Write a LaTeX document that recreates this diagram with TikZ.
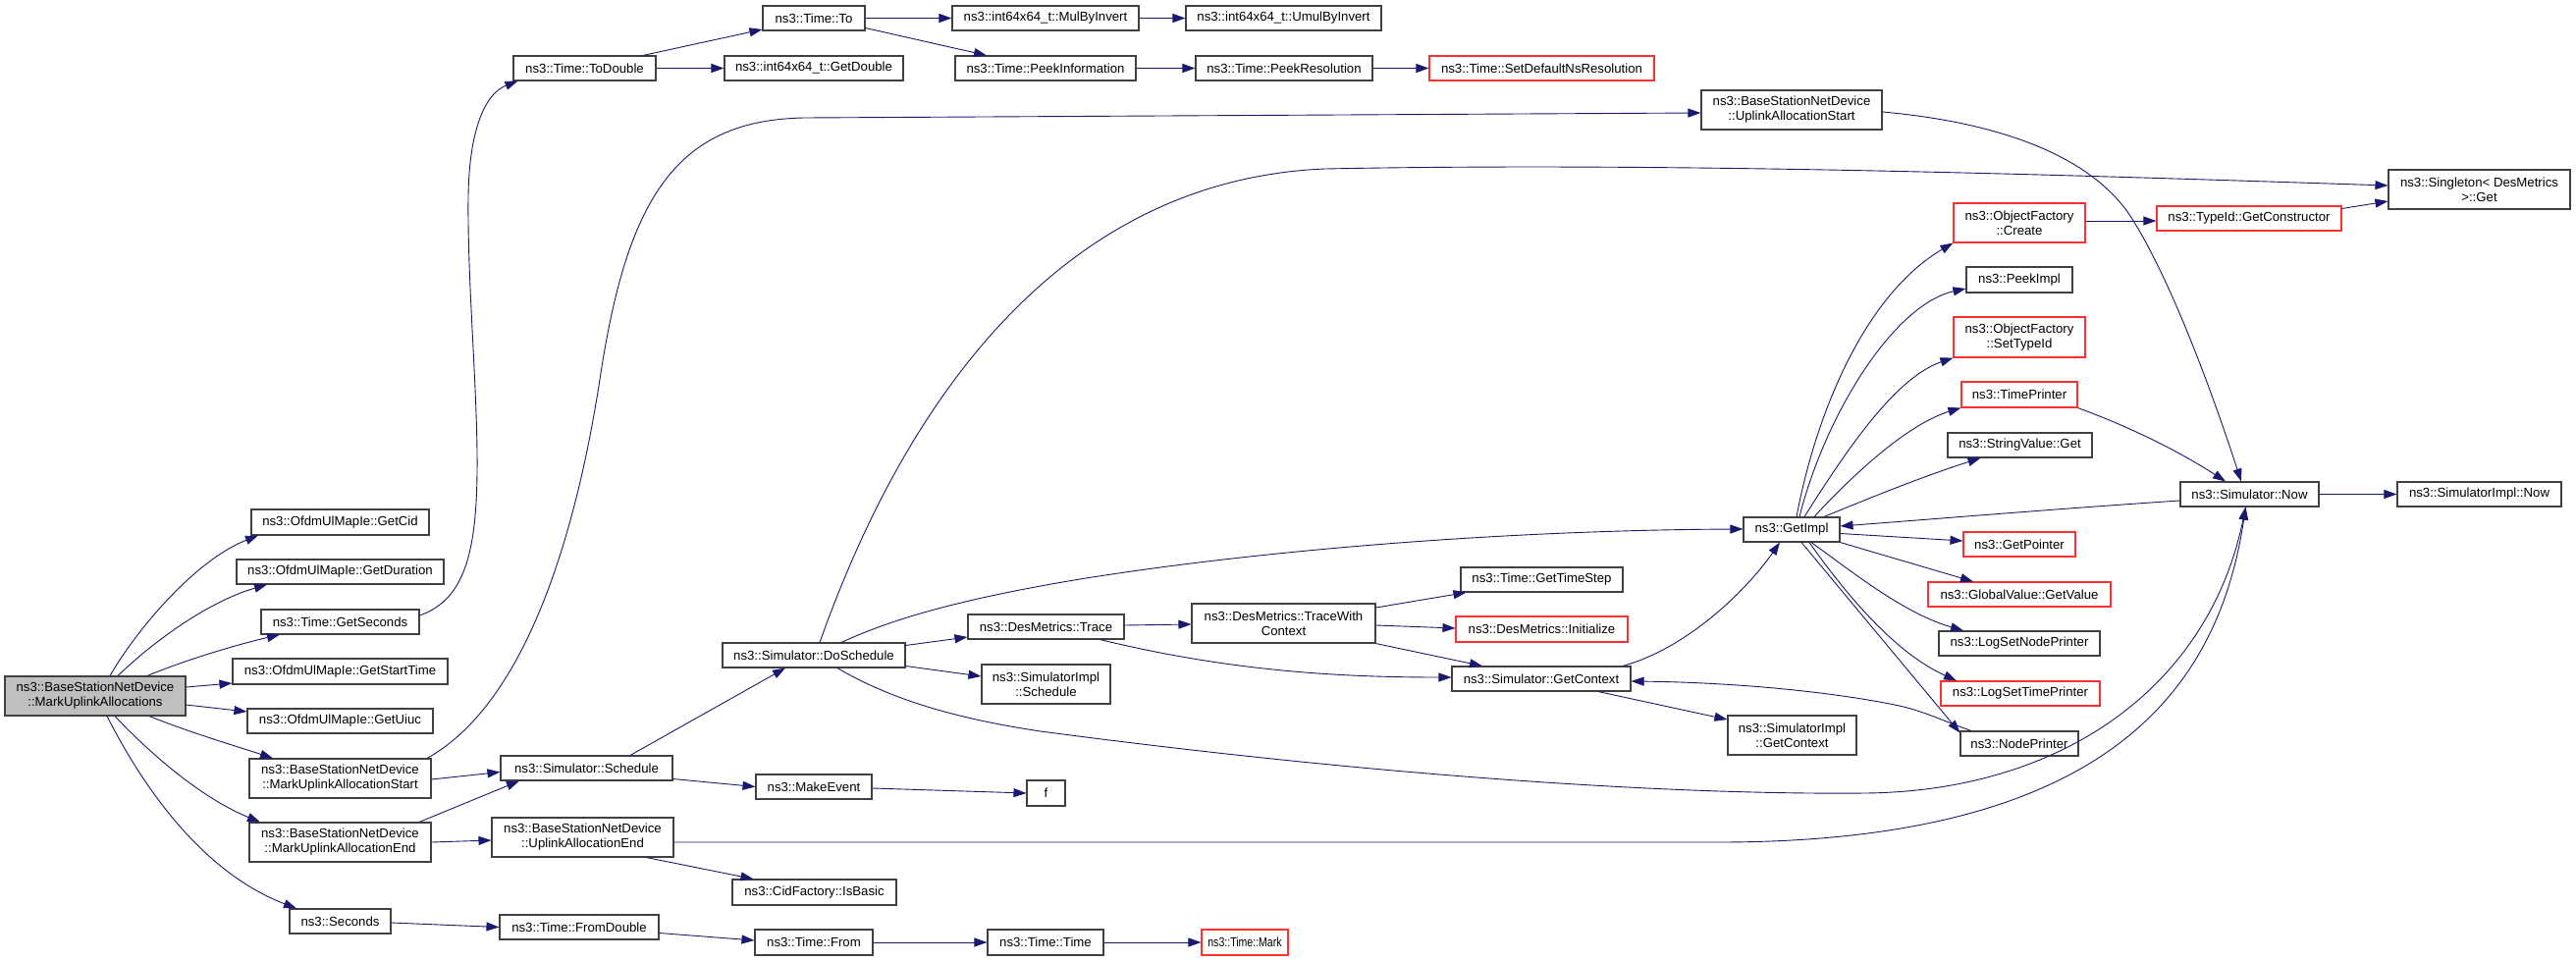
\documentclass[tikz,border=0pt]{standalone}
\usepackage{fontspec}
\setmainfont{Liberation Sans}
\usetikzlibrary{arrows.meta}
\definecolor{edgeblue}{HTML}{191970}
\definecolor{boxgray}{HTML}{404040}
\definecolor{boxred}{HTML}{FF3030}
\definecolor{mainfill}{HTML}{BFBFBF}
\begin{document}
\begin{tikzpicture}[x=1pt,y=-1pt,
  nbox/.style={draw=boxgray,line width=1.1pt,fill=white,inner sep=0pt,align=center,font=\fontsize{13.2}{15}\selectfont},
  rbox/.style={nbox,draw=boxred},
  mbox/.style={nbox,fill=mainfill},
  conn/.style={draw=edgeblue,line width=0.9pt,-{Triangle[length=13pt,width=9pt]}}]
\useasboundingbox (0,0) rectangle (2624,979);
\fill[white] (0,0) rectangle (2624,979);
% column 0
\node[mbox,minimum width=184pt,minimum height=40pt] (main) at (97,709) {ns3::BaseStationNetDevice\\::MarkUplinkAllocations};
% column 1
\node[nbox,minimum width=181pt,minimum height=26pt] (GetCid) at (346.5,532) {ns3::OfdmUlMapIe::GetCid};
\node[nbox,minimum width=211pt,minimum height=25pt] (GetDuration) at (346.5,582.5) {ns3::OfdmUlMapIe::GetDuration};
\node[nbox,minimum width=161pt,minimum height=25pt] (GetSeconds) at (346.5,633.5) {ns3::Time::GetSeconds};
\node[nbox,minimum width=219pt,minimum height=26pt] (GetStartTime) at (346.5,684) {ns3::OfdmUlMapIe::GetStartTime};
\node[nbox,minimum width=189pt,minimum height=25pt] (GetUiuc) at (346.5,734.5) {ns3::OfdmUlMapIe::GetUiuc};
\node[nbox,minimum width=185pt,minimum height=40pt] (MUAStart) at (346.5,793) {ns3::BaseStationNetDevice\\::MarkUplinkAllocationStart};
\node[nbox,minimum width=185pt,minimum height=40pt] (MUAEnd) at (346.5,858) {ns3::BaseStationNetDevice\\::MarkUplinkAllocationEnd};
\node[nbox,minimum width=103pt,minimum height=25pt] (Seconds) at (346.5,938.5) {ns3::Seconds};
% column 2
\node[nbox,minimum width=145pt,minimum height=25pt] (ToDouble) at (595.5,69.5) {ns3::Time::ToDouble};
\node[nbox,minimum width=175pt,minimum height=25pt] (SimSchedule) at (597.5,782.5) {ns3::Simulator::Schedule};
\node[nbox,minimum width=185pt,minimum height=40pt] (UAEnd) at (593.5,853) {ns3::BaseStationNetDevice\\::UplinkAllocationEnd};
\node[nbox,minimum width=162pt,minimum height=25pt] (FromDouble) at (590,944.5) {ns3::Time::FromDouble};
% column 3
\node[nbox,minimum width=104pt,minimum height=25pt] (TimeTo) at (829,18.5) {ns3::Time::To};
\node[nbox,minimum width=182pt,minimum height=25pt] (GetDouble) at (829,69.5) {ns3::int64x64\_t::GetDouble};
\node[nbox,minimum width=186pt,minimum height=25pt] (DoSchedule) at (829,667.5) {ns3::Simulator::DoSchedule};
\node[nbox,minimum width=118pt,minimum height=25pt] (MakeEvent) at (829,801.5) {ns3::MakeEvent};
\node[nbox,minimum width=167pt,minimum height=26pt] (CidIsBasic) at (829.5,909) {ns3::CidFactory::IsBasic};
\node[nbox,minimum width=120pt,minimum height=26pt] (TimeFrom) at (829,960) {ns3::Time::From};
% column 4
\node[nbox,minimum width=190pt,minimum height=25pt] (MulByInvert) at (1065,18.5) {ns3::int64x64\_t::MulByInvert};
\node[nbox,minimum width=184pt,minimum height=25pt] (PeekInformation) at (1065,69.5) {ns3::Time::PeekInformation};
\node[nbox,minimum width=159pt,minimum height=25pt] (Trace) at (1065.5,638.5) {ns3::DesMetrics::Trace};
\node[nbox,minimum width=131pt,minimum height=40pt] (SimImplSchedule) at (1065.5,697) {ns3::SimulatorImpl\\::Schedule};
\node[nbox,minimum width=39pt,minimum height=26pt] (f) at (1065.5,808) {f};
\node[nbox,minimum width=118pt,minimum height=26pt] (TimeTime) at (1065,960) {ns3::Time::Time};
% column 5
\node[nbox,minimum width=199pt,minimum height=25pt] (UmulByInvert) at (1307.5,18.5) {ns3::int64x64\_t::UmulByInvert};
\node[nbox,minimum width=180pt,minimum height=25pt] (PeekResolution) at (1308,69.5) {ns3::Time::PeekResolution};
\node[nbox,minimum width=187pt,minimum height=40pt] (TWC) at (1307.5,635) {ns3::DesMetrics::TraceWith\\Context};
\node[rbox,minimum width=88pt,minimum height=26pt] (Mark) at (1268,960) {\scalebox{0.8}[1]{ns3::Time::Mark}};
% column 6
\node[rbox,minimum width=229pt,minimum height=25pt] (SetDefault) at (1570.5,69.5) {ns3::Time::SetDefaultNsResolution};
\node[nbox,minimum width=165pt,minimum height=25pt] (GetTimeStep) at (1570.5,590.5) {ns3::Time::GetTimeStep};
\node[rbox,minimum width=175pt,minimum height=26pt] (Initialize) at (1570.5,641) {ns3::DesMetrics::Initialize};
\node[nbox,minimum width=182pt,minimum height=25pt] (GetContext) at (1570,691.5) {ns3::Simulator::GetContext};
% column 7
\node[nbox,minimum width=184pt,minimum height=40pt] (UAStart) at (1825,112) {ns3::BaseStationNetDevice\\::UplinkAllocationStart};
\node[nbox,minimum width=98pt,minimum height=25pt] (GetImpl) at (1825,539.5) {ns3::GetImpl};
\node[nbox,minimum width=131pt,minimum height=40pt] (SimImplGetContext) at (1825.5,749) {ns3::SimulatorImpl\\::GetContext};
% column 8
\node[rbox,minimum width=134pt,minimum height=40pt] (Create) at (2057,227) {ns3::ObjectFactory\\::Create};
\node[nbox,minimum width=108pt,minimum height=26pt] (PeekImpl) at (2057,285) {ns3::PeekImpl};
\node[rbox,minimum width=134pt,minimum height=41pt] (SetTypeId) at (2057,343.5) {ns3::ObjectFactory\\::SetTypeId};
\node[rbox,minimum width=118pt,minimum height=26pt] (TimePrinter) at (2057,402) {ns3::TimePrinter};
\node[nbox,minimum width=147pt,minimum height=25pt] (StringValueGet) at (2057.5,453.5) {ns3::StringValue::Get};
\node[rbox,minimum width=114pt,minimum height=25pt] (GetPointer) at (2057,554.5) {ns3::GetPointer};
\node[rbox,minimum width=186pt,minimum height=25pt] (GlobalValue) at (2057,605.5) {ns3::GlobalValue::GetValue};
\node[nbox,minimum width=164pt,minimum height=25pt] (LogSetNodePrinter) at (2057,655.5) {ns3::LogSetNodePrinter};
\node[rbox,minimum width=162pt,minimum height=25pt] (LogSetTimePrinter) at (2058,706.5) {ns3::LogSetTimePrinter};
\node[nbox,minimum width=120pt,minimum height=25pt] (NodePrinter) at (2057,757.5) {ns3::NodePrinter};
% column 9
\node[rbox,minimum width=188pt,minimum height=25pt] (GetConstructor) at (2291,222.5) {ns3::TypeId::GetConstructor};
\node[nbox,minimum width=141pt,minimum height=25pt] (SimNow) at (2291.5,503.5) {ns3::Simulator::Now};
% column 10
\node[nbox,minimum width=185pt,minimum height=40pt] (Singleton) at (2525.5,193) {ns3::Singleton< DesMetrics\\>::Get};
\node[nbox,minimum width=167pt,minimum height=25pt] (SimImplNow) at (2525.5,503.5) {ns3::SimulatorImpl::Now};

% edges from main
\draw[conn] ([xshift=15pt]main.north) .. controls (140,640) and (200,570) .. ([xshift=-83.5pt]GetCid.south);
\draw[conn] ([xshift=23pt]main.north) .. controls (160,650) and (215,612) .. ([xshift=-74.5pt]GetDuration.south);
\draw[conn] ([xshift=53pt]main.north) .. controls (190,672) and (240,657) .. ([xshift=-61.5pt]GetSeconds.south);
\draw[conn] ([yshift=9pt]main.east) -- ([yshift=-12pt]GetStartTime.west);
\draw[conn] ([yshift=-9pt]main.east) -- ([yshift=9.5pt]GetUiuc.west);
\draw[conn] ([xshift=55pt]main.south) .. controls (190,745) and (240,760) .. ([xshift=-68.5pt]MUAStart.north);
\draw[conn] ([xshift=20pt]main.south) .. controls (160,775) and (210,815) .. ([xshift=-81.5pt]MUAEnd.north);
\draw[conn] ([xshift=12pt]main.south) .. controls (150,810) and (210,890) .. ([xshift=-44.5pt]Seconds.north);

% GetSeconds -> ToDouble
\draw[conn] ([yshift=6.5pt]GetSeconds.east) .. controls (475,610) and (487,560) .. (486,460)
  .. controls (485,380) and (476,280) .. (477,200) .. controls (478,130) and (495,95) .. ([xshift=-68pt]ToDouble.south);
\draw[conn] ([xshift=59.5pt]ToDouble.north) -- ([yshift=-11.5pt]TimeTo.west);
\draw[conn] (ToDouble.east) -- (GetDouble.west);
\draw[conn] (TimeTo.east) -- (MulByInvert.west);
\draw[conn] ([yshift=-10pt]TimeTo.east) -- ([xshift=-60pt]PeekInformation.north);
\draw[conn] (MulByInvert.east) -- (UmulByInvert.west);
\draw[conn] (PeekInformation.east) -- (PeekResolution.west);
\draw[conn] (PeekResolution.east) -- (SetDefault.west);

% MarkUplinkAllocationStart / End
\draw[conn] ([xshift=88.5pt]MUAStart.north) .. controls (530,720) and (585,560) .. (612,380)
  .. controls (640,200) and (690,122) .. (820,120) -- ([yshift=-3pt]UAStart.west);
\draw[conn] ([yshift=-1pt]MUAStart.east) -- ([yshift=-4pt]SimSchedule.west);
\draw[conn] ([xshift=80.5pt]MUAEnd.north) -- ([xshift=-68.5pt]SimSchedule.south);
\draw[conn] (MUAEnd.east) -- ([yshift=-3pt]UAEnd.west);

% Simulator::Schedule
\draw[conn] ([xshift=44.5pt]SimSchedule.north) -- ([xshift=-29pt]DoSchedule.south);
\draw[conn] ([yshift=-11pt]SimSchedule.east) -- (MakeEvent.west);
\draw[conn] ([yshift=-1.5pt]MakeEvent.east) -- (f.west);

% DoSchedule
\draw[conn] ([yshift=10pt]DoSchedule.east) -- ([yshift=-10.5pt]Trace.west);
\draw[conn] ([yshift=-11pt]DoSchedule.east) -- ([yshift=8pt]SimImplSchedule.west);
\draw[conn] ([xshift=28pt]DoSchedule.north) .. controls (910,630) and (980,610) .. (1100,590)
  .. controls (1300,558) and (1550,540) .. ([yshift=0.5pt]GetImpl.west);
\draw[conn] ([xshift=6pt]DoSchedule.north) .. controls (890,500) and (1030,185) .. (1350,172)
  .. controls (1700,165) and (2100,178) .. ([yshift=4pt]Singleton.west);
\draw[conn] ([xshift=24pt]DoSchedule.south) .. controls (900,708) and (960,730) .. (1060,745)
  .. controls (1400,790) and (1700,810) .. (1900,808) .. controls (2100,806) and (2250,700) .. ([xshift=-4pt]SimNow.south);

% UplinkAllocationEnd
\draw[conn] ([yshift=-5pt]UAEnd.east) -- (1750,858) .. controls (2150,858) and (2260,700) .. ([xshift=-4pt]SimNow.south);
\draw[conn] ([xshift=65pt]UAEnd.south) -- ([xshift=-62pt]CidIsBasic.north);

% Seconds chain
\draw[conn] ([yshift=-1.5pt]Seconds.east) -- (FromDouble.west);
\draw[conn] ([yshift=-6pt]FromDouble.east) -- ([yshift=2pt]TimeFrom.west);
\draw[conn] (TimeFrom.east) -- (TimeTime.west);
\draw[conn] (TimeTime.east) -- (Mark.west);

% Trace
\draw[conn] ([yshift=1.5pt]Trace.east) -- ([yshift=-1pt]TWC.west);
\draw[conn] ([xshift=55pt]Trace.south) .. controls (1250,683) and (1360,690) .. ([yshift=1.5pt]GetContext.west);
\draw[conn] ([yshift=16pt]TWC.east) -- ([xshift=-77pt]GetTimeStep.south);
\draw[conn] ([yshift=-2pt]TWC.east) -- ([yshift=1pt]Initialize.west);
\draw[conn] (TWC.south east) -- ([xshift=-60pt]GetContext.north);

% GetContext
\draw[conn] ([xshift=83pt]GetContext.north) .. controls (1720,660) and (1780,600) .. ([xshift=-12pt]GetImpl.south);
\draw[conn] ([xshift=58pt]GetContext.south) -- ([yshift=16pt]SimImplGetContext.west);
\draw[conn] ([xshift=-49pt]NodePrinter.north) .. controls (1980,735) and (1960,724) .. (1930,718)
  .. controls (1850,702) and (1750,695) .. ([yshift=-2.5pt]GetContext.east);

% GetImpl
\draw[conn] ([xshift=10pt]GetImpl.south) -- ([yshift=11pt]NodePrinter.west);
\draw[conn] ([xshift=18pt]GetImpl.south) .. controls (1880,605) and (1930,665) .. ([xshift=-65pt]LogSetTimePrinter.north);
\draw[conn] ([xshift=20pt]GetImpl.south) .. controls (1890,585) and (1940,625) .. ([xshift=-57pt]LogSetNodePrinter.north);
\draw[conn] (GetImpl.south east) -- ([xshift=-47pt]GlobalValue.north);
\draw[conn] ([yshift=-4pt]GetImpl.east) -- ([yshift=3.5pt]GetPointer.west);
\draw[conn] ([yshift=-6.5pt]SimNow.west) .. controls (2100,518) and (1980,528) .. ([yshift=3.5pt]GetImpl.east);
\draw[conn] ([xshift=33pt]GetImpl.north) .. controls (1910,505) and (1960,485) .. ([xshift=-40pt]StringValueGet.south);
\draw[conn] ([xshift=23pt]GetImpl.north) .. controls (1900,470) and (1950,430) .. (TimePrinter.south west);
\draw[conn] ([xshift=13pt]GetImpl.north) .. controls (1880,460) and (1930,385) .. (SetTypeId.south west);
\draw[conn] ([xshift=8pt]GetImpl.north) .. controls (1860,420) and (1930,310) .. ([yshift=-9pt]PeekImpl.west);
\draw[conn] ([xshift=5pt]GetImpl.north) .. controls (1850,420) and (1900,300) .. (Create.south west);

% right part
\draw[conn] ([yshift=-2pt]UAStart.east) .. controls (2040,125) and (2130,160) .. (2170,220)
  .. controls (2215,290) and (2260,420) .. ([xshift=-8.5pt]SimNow.north);
\draw[conn] (TimePrinter.south east) .. controls (2170,435) and (2220,460) .. ([xshift=-24.5pt]SimNow.north);
\draw[conn] ([yshift=2pt]Create.east) -- ([yshift=-2.5pt]GetConstructor.west);
\draw[conn] ([yshift=10pt]GetConstructor.east) -- ([yshift=-12pt]Singleton.west);
\draw[conn] (SimNow.east) -- (SimImplNow.west);
\end{tikzpicture}
\end{document}
